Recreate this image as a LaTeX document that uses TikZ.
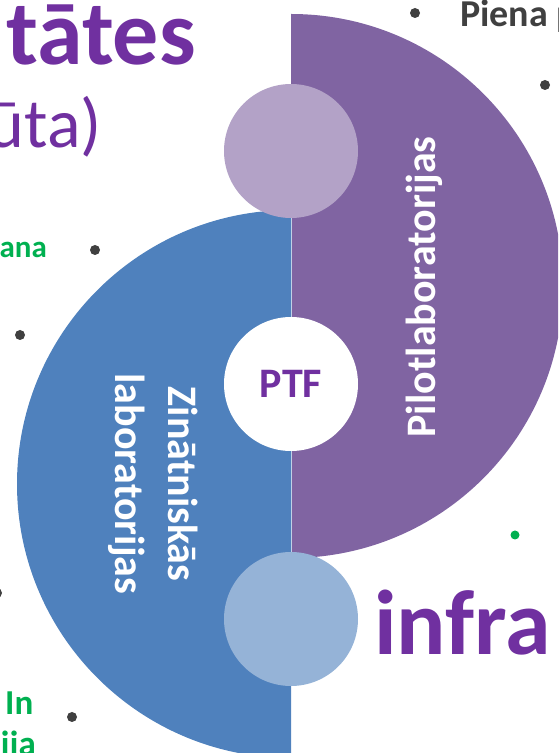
\documentclass[tikz,border=0pt]{standalone}
\usepackage{fontspec}
\setmainfont{Carlito}

\definecolor{pilotfill}{HTML}{8064A2}
\definecolor{pilotlight}{HTML}{B3A2C7}
\definecolor{zinfill}{HTML}{4F81BD}
\definecolor{zinlight}{HTML}{95B3D7}
\definecolor{titlepurple}{HTML}{7030A0}
\definecolor{bulletgreen}{HTML}{00B050}
\definecolor{bulletgray}{HTML}{404040}

\newcommand{\sz}[1]{\fontsize{#1pt}{#1pt}\selectfont}

\tikzset{
  halfdot/.style={circle,minimum size=134pt,inner sep=0pt},
  dotgray/.style={circle,fill=bulletgray,minimum size=10pt,inner sep=0pt},
  dotgreen/.style={circle,fill=bulletgreen,minimum size=9pt,inner sep=0pt},
  sidetext/.style={text=white,font=\bfseries\sz{42},inner sep=0pt}
}

\begin{document}
\begin{tikzpicture}[x=1pt,y=1pt]

        \clip (0,0) rectangle (558,753);

        % the two half discs
        \fill[pilotfill] (291,739) arc[start angle=90,end angle=-90,radius=272] -- cycle;
        \fill[zinfill]   (291,543) arc[start angle=90,end angle=270,radius=274] -- cycle;
        \draw[zinlight!60!white,line width=0.8pt] (291,543) -- (291,195);

        \begin{scope}[every node/.style={halfdot}]
          \node[fill=pilotlight] (top)    at (291,602) {};
          \node[fill=white,text=titlepurple,font=\bfseries\sz{42}] (ptf) at (291,369) {PTF};
          \node[fill=zinlight]   (bottom) at (291,134) {};
        \end{scope}

        \begin{scope}[every node/.style={sidetext}]
          \node[rotate=90,anchor=base]  (pilot) at (435,466) {Pilotlaboratorijas};
          \node[rotate=-90,anchor=base] (zin1)  at (168,269) {Zinātniskās};
          \node[rotate=-90,anchor=base] (zin2)  at (115,269) {laboratorijas};
        \end{scope}

        % bullets
        \node[dotgray]  (b1) at (415,740) {};
        \node[dotgray]  (b2) at (545,668) {};
        \node[dotgray]  (b3) at (95,503)  {};
        \node[dotgray]  (b4) at (20,418)  {};
        \node[dotgray]  (b5) at (-3,160)  {};
        \node[dotgray]  (b6) at (72,36)   {};
        \node[dotgreen] (b7) at (515,218) {};

        % texts cut by the page edge
        \begin{scope}[every node/.style={inner sep=0pt}]
          \node[anchor=base east,text=titlepurple,font=\bfseries\sz{92}] (tates) at (196,688) {tātes};
          \node[anchor=base east,text=titlepurple,font=\sz{70}]          (uta)   at (102,605) {ūta)};
          \node[anchor=base west,text=bulletgray,font=\bfseries\sz{38}]  (piena) at (460,726) {Piena p};
          \node[anchor=base east,text=bulletgreen,font=\bfseries\sz{31}] (ana)   at (47,495)  {ana};
          \node[anchor=base west,text=bulletgreen,font=\bfseries\sz{35}] (in)    at (5,38)    {In};
          \node[anchor=base east,text=bulletgreen,font=\bfseries\sz{35}] (ija)   at (36,-2)   {ija};
          \node[anchor=base west,text=titlepurple,font=\bfseries\sz{92}] (infra) at (374,98)  {infra};
        \end{scope}

      \end{tikzpicture}
\end{document}
